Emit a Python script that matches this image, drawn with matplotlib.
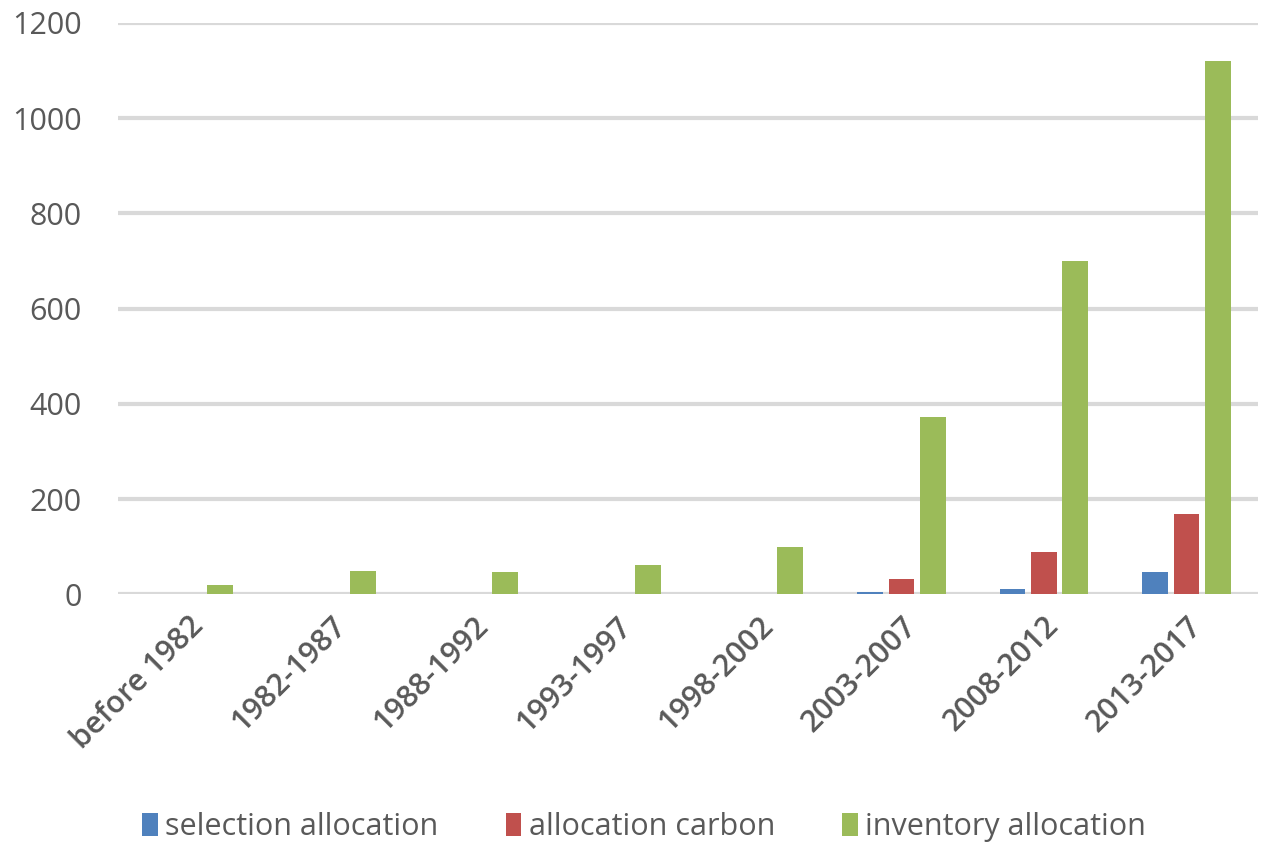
import matplotlib.pyplot as plt
import numpy as np

categories = ['before 1982', '1982-1987', '1988-1992', '1993-1997',
              '1998-2002', '2003-2007', '2008-2012', '2013-2017']
selection = [0, 0, 0, 0, 0, 5, 12, 46]
carbon = [0, 0, 0, 0, 0, 33, 88, 168]
inventory = [19, 48, 46, 61, 100, 372, 700, 1120]

series = [('selection allocation', selection, '#4F81BD'),
          ('allocation carbon', carbon, '#C0504D'),
          ('inventory allocation', inventory, '#9BBB59')]

fig = plt.figure(figsize=(12.64, 8.49), dpi=100)
ax = fig.add_axes([0.093, 0.300, 0.902, 0.673])

x = np.arange(len(categories))
width = 0.18
step = 0.22
for i, (name, vals, col) in enumerate(series):
    ax.bar(x + (i - 1) * step, vals, width, color=col, label=name, zorder=3)

ax.set_xlim(-0.5, len(categories) - 0.5)
ax.set_ylim(0, 1200)
ax.set_yticks(range(0, 1201, 200))
ax.grid(axis='y', color='#D9D9D9', linewidth=3, zorder=0)
for s in ax.spines.values():
    s.set_visible(False)
ax.tick_params(length=0)
ax.tick_params(axis='y', labelsize=22, labelcolor='#595959', pad=26)
ax.set_yticklabels([str(v) for v in range(0, 1201, 200)], fontfamily='Open Sans')
ax.set_xticks(x)
ax.set_xticklabels(categories, rotation=45, ha='right', rotation_mode='anchor',
                   fontsize=22, color='#595959', fontfamily='Open Sans',
                   fontweight='semibold')
ax.tick_params(axis='x', pad=12)

# legend sits at the very bottom, as in the original
ax.legend(loc='lower center', bbox_to_anchor=(0.462, -0.482), ncol=3, frameon=False,
          prop={'family': 'Open Sans', 'size': 22}, labelcolor='#595959',
          handlelength=0.5, handleheight=0.8, handletextpad=0.25, columnspacing=2.2)

fig.savefig('out.png', dpi=100, facecolor='white')
